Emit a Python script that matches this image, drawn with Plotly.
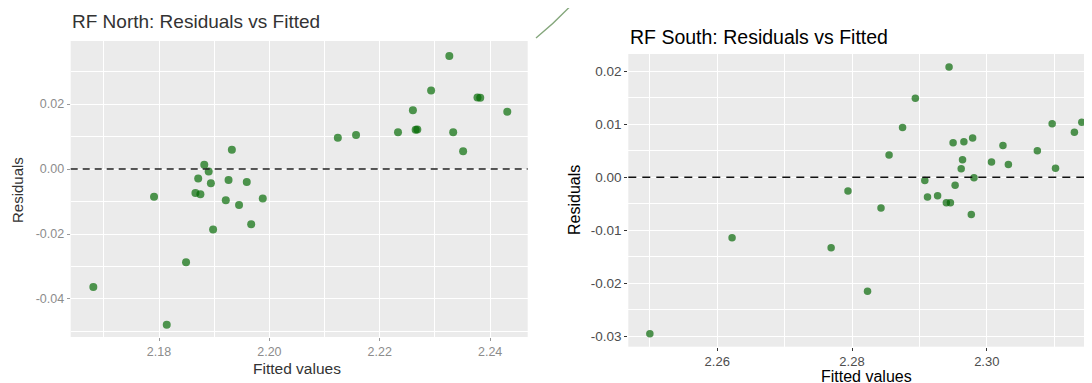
import plotly.graph_objects as go

# ---- Data: RF North ----
north_fitted = [2.1681, 2.1791, 2.1814, 2.1849, 2.1866, 2.1875, 2.1871, 2.1882, 2.1890, 2.1894,
                2.1898, 2.1921, 2.1926, 2.1932, 2.1945, 2.1959, 2.1967, 2.1988, 2.2124, 2.2157,
                2.2233, 2.2260, 2.2265, 2.2268, 2.2293, 2.2326, 2.2333, 2.2351, 2.2377, 2.2382,
                2.2431]
north_resid = [-0.0363, -0.0085, -0.0479, -0.0287, -0.0074, -0.0078, -0.0029, 0.0013, -0.0008, -0.0044,
               -0.0186, -0.0096, -0.0034, 0.0059, -0.0111, -0.0040, -0.0170, -0.0091, 0.0096, 0.0105,
               0.0113, 0.0181, 0.0121, 0.0122, 0.0242, 0.0348, 0.0113, 0.0055, 0.0220, 0.0219,
               0.0176]

# ---- Data: RF South ----
south_fitted = [2.2500, 2.2622, 2.2769, 2.2794, 2.2823, 2.2843, 2.2855, 2.2875, 2.2894, 2.2908,
                2.2912, 2.2927, 2.2940, 2.2946, 2.2944, 2.2950, 2.2953, 2.2962, 2.2964, 2.2966,
                2.2977, 2.2979, 2.2981, 2.3007, 2.3024, 2.3032, 2.3075, 2.3097, 2.3102, 2.3130,
                2.3141]
south_resid = [-0.0295, -0.0114, -0.0133, -0.0026, -0.0215, -0.0058, 0.0042, 0.0094, 0.0149, -0.0006,
               -0.0037, -0.0035, -0.0048, -0.0048, 0.0208, 0.0065, -0.0015, 0.0016, 0.0033, 0.0067,
               -0.0070, 0.0074, -0.0001, 0.0029, 0.0060, 0.0024, 0.0050, 0.0101, 0.0017, 0.0085,
               0.0104]

north_xticks = [2.18, 2.20, 2.22, 2.24]
north_yticks = [0.02, 0.00, -0.02, -0.04]
south_xticks = [2.26, 2.28, 2.30]
south_yticks = [0.02, 0.01, 0.00, -0.01, -0.02, -0.03]

W, H = 1092, 383
OFF = 8  # page body margin offset in the browser
def px(x): return (x - OFF) / W
def py(y): return 1 - (y - OFF) / H

FONT = "Liberation Sans, Arial, sans-serif"
PANEL = "#EBEBEB"

fig = go.Figure()
fig.add_trace(go.Scatter(x=north_fitted, y=north_resid, mode="markers", xaxis="x", yaxis="y",
                         marker=dict(color="rgba(0,105,0,0.68)", size=8, line=dict(width=0)),
                         showlegend=False, hoverinfo="skip"))
fig.add_trace(go.Scatter(x=south_fitted, y=south_resid, mode="markers", xaxis="x2", yaxis="y2",
                         marker=dict(color="rgba(0,100,0,0.68)", size=7.5, line=dict(width=0)),
                         showlegend=False, hoverinfo="skip"))

common = dict(showline=False, zeroline=False, gridcolor="white", gridwidth=1.3,
              ticks="outside", ticklen=3, tickwidth=1, fixedrange=True)

fig.update_layout(
    width=W, height=H, margin=dict(l=0, r=0, t=0, b=0),
    paper_bgcolor="white", plot_bgcolor=PANEL,
    font=dict(family=FONT),
    xaxis=dict(domain=[px(70.7), px(527.7)], range=[2.1640, 2.2468], anchor="y",
               tickvals=north_xticks, ticktext=[f"{v:.2f}" for v in north_xticks],
               tickfont=dict(size=12.5, color="#8c8c8c"), tickcolor="#9a9a9a",
               minor=dict(dtick=0.01, tick0=2.17, showgrid=True, gridcolor="white", gridwidth=0.7, ticks=""),
               **common),
    yaxis=dict(domain=[py(337), py(41)], range=[-0.0517, 0.0394], anchor="x",
               tickvals=north_yticks, ticktext=[f"{v:.2f}" for v in north_yticks],
               tickfont=dict(size=12.5, color="#8c8c8c"), tickcolor="#9a9a9a",
               minor=dict(dtick=0.01, tick0=0.01, showgrid=True, gridcolor="white", gridwidth=0.7, ticks=""),
               **common),
    xaxis2=dict(domain=[px(628.3), 1.0], range=[2.2468, 2.3168], anchor="y2",
                tickvals=south_xticks, ticktext=[f"{v:.2f}" for v in south_xticks],
                tickfont=dict(size=13, color="#4D4D4D"), tickcolor="#333333",
                minor=dict(dtick=0.01, tick0=2.25, showgrid=True, gridcolor="white", gridwidth=0.7, ticks=""),
                **common),
    yaxis2=dict(domain=[py(346.7), py(54)], range=[-0.03196, 0.02326], anchor="x2",
                tickvals=south_yticks, ticktext=[f"{v:.2f}" for v in south_yticks],
                tickfont=dict(size=13.5, color="#4D4D4D"), tickcolor="#333333",
                minor=dict(dtick=0.005, tick0=0.005, showgrid=True, gridcolor="white", gridwidth=0.7, ticks=""),
                **common),
)

# zero reference lines
fig.add_shape(type="line", xref="x domain", yref="y", x0=0, x1=1, y0=0, y1=0,
              line=dict(color="#222222", width=1.6, dash="7px,5px"))
fig.add_shape(type="line", xref="x2 domain", yref="y2", x0=0, x1=1, y0=0, y1=0,
              line=dict(color="#111111", width=1.4, dash="8px,6px"))

# stray decorative stroke at top middle
fig.add_shape(type="path", xref="paper", yref="paper",
              path=f"M {px(536)},{py(38)} Q {px(557)},{py(21)} {px(576)},{py(0)}",
              line=dict(color="rgba(110,150,100,0.85)", width=1.4))

ann = []
ann.append(dict(text="RF North: Residuals vs Fitted", x=px(70), y=py(22), xref="paper", yref="paper",
                xanchor="left", yanchor="middle", showarrow=False,
                font=dict(size=19, color="#333333", family=FONT)))
ann.append(dict(text="RF South: Residuals vs Fitted", x=px(628), y=py(37), xref="paper", yref="paper",
                xanchor="left", yanchor="middle", showarrow=False,
                font=dict(size=19.5, color="black", family=FONT)))
ann.append(dict(text="Residuals", x=px(18), y=py(190), xref="paper", yref="paper",
                xanchor="center", yanchor="middle", showarrow=False, textangle=-90,
                font=dict(size=15, color="#333333", family=FONT)))
ann.append(dict(text="Residuals", x=px(575), y=py(200), xref="paper", yref="paper",
                xanchor="center", yanchor="middle", showarrow=False, textangle=-90,
                font=dict(size=16, color="black", family=FONT)))
ann.append(dict(text="Fitted values", x=px(297), y=py(368), xref="paper", yref="paper",
                xanchor="center", yanchor="middle", showarrow=False,
                font=dict(size=15.5, color="#333333", family=FONT)))
ann.append(dict(text="Fitted values", x=px(866), y=py(376), xref="paper", yref="paper",
                xanchor="center", yanchor="middle", showarrow=False,
                font=dict(size=16, color="black", family=FONT)))
fig.update_layout(annotations=ann)

fig.write_html("out.html")
